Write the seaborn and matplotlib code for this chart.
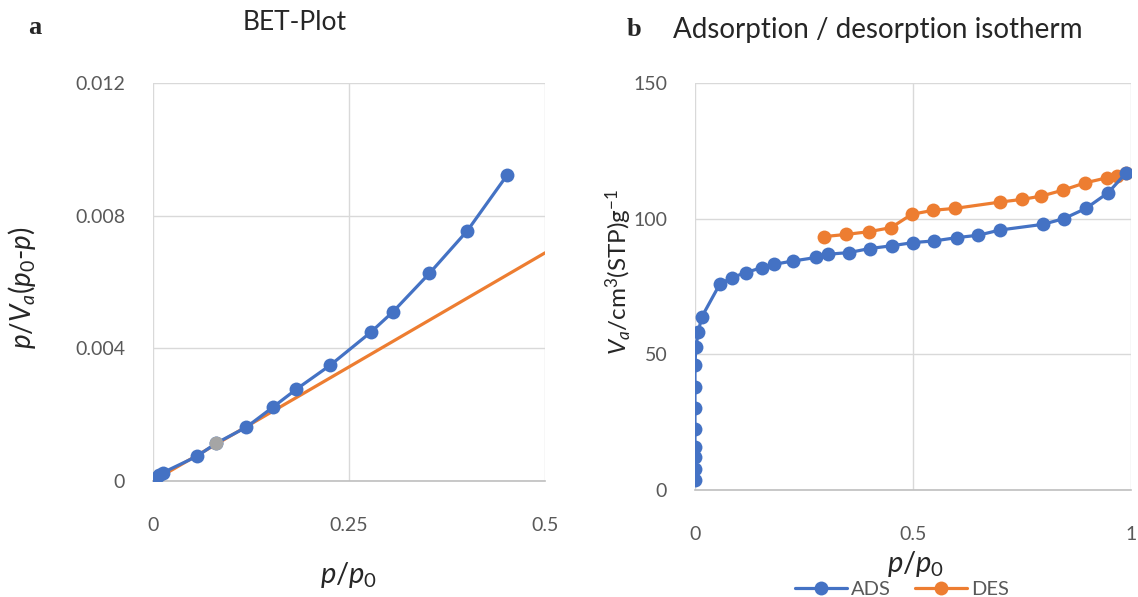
import matplotlib
matplotlib.use("Agg")
import matplotlib.pyplot as plt
import seaborn as sns
from matplotlib.lines import Line2D

# BET plot data (left)
bet_x = [0.001, 0.004, 0.008, 0.0125, 0.0557, 0.0807, 0.119, 0.1526, 0.183, 0.226, 0.278, 0.306, 0.3525, 0.401, 0.4518]
bet_y = [0.0, 0.0001, 0.00017, 0.00025, 0.00074, 0.00114, 0.00162, 0.00222, 0.00277, 0.00349, 0.00449, 0.0051, 0.00626, 0.00755, 0.00923]
gray_x = [0.0807]
gray_y = [0.00114]
fit_x = [0.0, 0.5]
fit_y = [0.0, 0.00688]

# isotherm data (right)
ads_x = [0.0, 0.0, 0.0, 0.0, 0.0, 0.0, 0.0, 0.0, 0.002, 0.008, 0.015, 0.057, 0.085, 0.116, 0.154, 0.182,
         0.225, 0.278, 0.306, 0.353, 0.401, 0.451, 0.501, 0.549, 0.6, 0.65, 0.699, 0.798, 0.846, 0.897,
         0.948, 0.989]
ads_y = [3.7, 7.6, 12.0, 15.7, 22.4, 30.2, 38.1, 46.1, 52.8, 58.4, 63.6, 75.9, 78.3, 80.1, 82.0, 83.2,
         84.4, 85.7, 86.9, 87.5, 89.0, 90.0, 91.2, 91.8, 93.0, 93.9, 95.8, 97.9, 100.0, 103.8,
         109.6, 116.9]
des_x = [0.297, 0.347, 0.399, 0.45, 0.497, 0.547, 0.597, 0.699, 0.75, 0.794, 0.844, 0.895, 0.946, 0.969, 0.989]
des_y = [93.4, 94.2, 95.2, 96.7, 101.6, 103.1, 103.8, 106.1, 107.1, 108.3, 110.5, 113.2, 115.1, 115.9, 116.9]

blue = "#4472C4"
orange = "#ED7D31"
grey = "#A5A5A5"
tick_col = "#595959"

sns.set_style("white")
plt.rcParams["font.family"] = ["Lato", "DejaVu Sans"]
plt.rcParams["mathtext.fontset"] = "custom"
plt.rcParams["mathtext.rm"] = "Lato"
plt.rcParams["mathtext.it"] = "Lato:italic"

fig = plt.figure(figsize=(11.38, 5.97), dpi=100)
ax1 = fig.add_axes([0.1344, 0.1943, 0.3446, 0.6667])
ax2 = fig.add_axes([0.6107, 0.1792, 0.3831, 0.6818])

line_kw = dict(marker="o", markersize=10, markeredgewidth=0, linewidth=2.3, sort=False, estimator=None)

# left: BET
sns.lineplot(x=fit_x, y=fit_y, ax=ax1, color=orange, linewidth=2.3, sort=False, estimator=None, zorder=2)
sns.lineplot(x=bet_x, y=bet_y, ax=ax1, color=blue, zorder=3, **line_kw)
sns.scatterplot(x=gray_x, y=gray_y, ax=ax1, color=grey, s=100, linewidth=0, zorder=4)
ax1.set_xlim(0, 0.5)
ax1.set_ylim(0, 0.012)
ax1.set_xticks([0, 0.25, 0.5])
ax1.set_xticklabels(["0", "0.25", "0.5"])
ax1.set_yticks([0, 0.004, 0.008, 0.012])
ax1.set_yticklabels(["0", "0.004", "0.008", "0.012"])
ax1.set_xlabel(r"$p/p_0$", fontsize=21)
ax1.set_ylabel(r"$p/V_a(p_0$-$p)$", fontsize=20)
ax1.xaxis.set_label_coords(0.5, -0.198)
ax1.yaxis.set_label_coords(-0.293, 0.485)

# right: isotherm
sns.lineplot(x=des_x, y=des_y, ax=ax2, color=orange, zorder=2, **line_kw)
sns.lineplot(x=ads_x, y=ads_y, ax=ax2, color=blue, zorder=3, **line_kw)
ax2.set_xlim(0, 1)
ax2.set_ylim(0, 150)
ax2.set_xticks([0, 0.5, 1])
ax2.set_xticklabels(["0", "0.5", "1"])
ax2.set_yticks([0, 50, 100, 150])
ax2.set_xlabel(r"$p/p_0$", fontsize=21)
ax2.set_ylabel(r"$V_a$/cm$^3$(STP)g$^{\mathrm{-1}}$", fontsize=17.5)
ax2.xaxis.set_label_coords(0.505, -0.145)
ax2.yaxis.set_label_coords(-0.14, 0.535)

for ax in (ax1, ax2):
    ax.grid(True, color="#D9D9D9", linewidth=1)
    for s in ("top", "right", "left"):
        ax.spines[s].set_visible(False)
    ax.spines["bottom"].set_color("#BFBFBF")
    ax.spines["bottom"].set_linewidth(1.2)
    ax.tick_params(axis="both", length=0, labelsize=14, colors=tick_col)
    ax.tick_params(axis="x", pad=26)
    ax.tick_params(axis="y", pad=20)
    ax.set_axisbelow(True)

handles = [Line2D([], [], color=blue, marker="o", markersize=10, markeredgewidth=0, linewidth=2.3),
           Line2D([], [], color=orange, marker="o", markersize=10, markeredgewidth=0, linewidth=2.3)]
fig.legend(handles, ["ADS", "DES"], loc="center", bbox_to_anchor=(0.7925, 0.012), ncol=2, frameon=False,
           fontsize=14.5, labelcolor=tick_col, handlelength=2.6, handletextpad=0.2, columnspacing=1.2,
           borderpad=0)

fig.text(28 / 1138, 1 - 28 / 597, "a", family="Liberation Serif", weight="bold", fontsize=19, va="center")
fig.text(295 / 1138, 1 - 22 / 597, "BET-Plot", fontsize=19, ha="center", va="center")
fig.text(627 / 1138, 1 - 30 / 597, "b", family="Liberation Serif", weight="bold", fontsize=19, va="center")
fig.text(878 / 1138, 1 - 30 / 597, "Adsorption / desorption isotherm", fontsize=20, ha="center", va="center")

fig.savefig("out.png", dpi=100)
